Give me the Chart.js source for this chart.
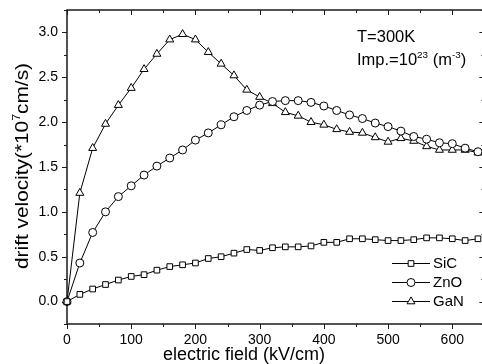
<!DOCTYPE html>
<html>
<head>
<meta charset="utf-8">
<title>drift velocity vs electric field</title>
<script src="https://cdn.jsdelivr.net/npm/chart.js@4.4.0/dist/chart.umd.min.js"></script>
<style>
  html, body { margin:0; padding:0; background:#fff; overflow:hidden; }
  #chart { display:block; }
</style>
</head>
<body>
<canvas id="chart" width="490" height="364"></canvas>
<script>
// electric field (kV/cm)
const fieldValues = [0,20,40,60,80,100,120,140,160,180,200,220,240,260,280,300,320,340,360,380,400,420,440,460,480,500,520,540,560,580,600,620,640];
// drift velocity (*10^7 cm/s)
const sicVelocity = [0,0.08,0.14,0.19,0.24,0.28,0.30,0.35,0.39,0.41,0.43,0.48,0.50,0.54,0.58,0.57,0.60,0.61,0.61,0.62,0.66,0.66,0.70,0.70,0.69,0.68,0.68,0.69,0.71,0.71,0.70,0.68,0.70];
const znoVelocity = [0,0.43,0.77,1.00,1.17,1.29,1.41,1.51,1.60,1.69,1.80,1.88,1.97,2.06,2.13,2.19,2.23,2.24,2.24,2.22,2.18,2.13,2.08,2.04,1.99,1.95,1.90,1.84,1.81,1.77,1.76,1.71,1.67];
const ganVelocity = [0,1.21,1.71,1.98,2.19,2.38,2.59,2.76,2.92,2.98,2.92,2.78,2.65,2.52,2.36,2.28,2.21,2.11,2.07,2.00,1.97,1.92,1.89,1.88,1.83,1.78,1.82,1.79,1.73,1.69,1.69,1.69,1.66];

const seriesNames = ['SiC','ZnO','GaN'];
const xTickValues = [0,100,200,300,400,500,600];
const yTickValues = [0.0,0.5,1.0,1.5,2.0,2.5,3.0];

const FONT = "'Liberation Sans', Arial, sans-serif";
const markers = { SiC: ['rect', 4], ZnO: ['circle', 4], GaN: ['triangle', 4.6] };

function makeDataset(name, values){
  const [style, radius] = markers[name];
  return {
    label: name,
    data: fieldValues.map((f, i) => ({ x: f, y: values[i] })),
    borderColor: '#000',
    borderWidth: 1,
    pointStyle: style,
    pointRadius: radius,
    pointBorderColor: '#000',
    pointBackgroundColor: '#fff',
    pointBorderWidth: 1,
    tension: 0,
    clip: false
  };
}

// superscript-aware text, parts = [[text, isSup], ...]
function richWidth(ctx, parts, size){
  let w = 0;
  for(const [t, sup] of parts){
    ctx.font = `${sup ? size*0.6 : size}px ${FONT}`;
    w += ctx.measureText(t).width;
  }
  return w;
}
function drawRich(ctx, parts, x, y, size){
  let cx = x;
  for(const [t, sup] of parts){
    ctx.font = `${sup ? size*0.6 : size}px ${FONT}`;
    ctx.fillText(t, cx, sup ? y - size*0.42 : y);
    cx += ctx.measureText(t).width;
  }
}

function drawMarker(ctx, style, r, x, y){
  ctx.beginPath();
  if(style === 'rect'){
    const s = r * Math.SQRT1_2;
    ctx.rect(x - s, y - s, 2*s, 2*s);
  } else if(style === 'circle'){
    ctx.arc(x, y, r, 0, Math.PI*2);
  } else {
    let a = 0;
    ctx.moveTo(x + Math.sin(a)*r, y - Math.cos(a)*r);
    a += Math.PI*2/3; ctx.lineTo(x + Math.sin(a)*r, y - Math.cos(a)*r);
    a += Math.PI*2/3; ctx.lineTo(x + Math.sin(a)*r, y - Math.cos(a)*r);
    ctx.closePath();
  }
  ctx.fillStyle = '#fff';
  ctx.fill();
  ctx.stroke();
}

const framePlugin = {
  id: 'frame',
  beforeDatasetsDraw(chart){
    const { ctx, chartArea: a, scales: { x, y } } = chart;
    ctx.save();
    ctx.strokeStyle = '#1a1a1a';
    ctx.lineWidth = 1.5;
    ctx.strokeRect(a.left, a.top, a.right - a.left, a.bottom - a.top);

    ctx.lineWidth = 1;
    ctx.beginPath();
    for(let v = 0; v <= x.max; v += 50){
      const px = Math.round(x.getPixelForValue(v)) + 0.5;
      const len = v % 100 === 0 ? 5 : 3;
      ctx.moveTo(px, a.bottom); ctx.lineTo(px, a.bottom + len);
      ctx.moveTo(px, a.top); ctx.lineTo(px, a.top + len);
    }
    for(let k = 0; k <= 14; k++){
      const v = y.min + k*0.25;
      const py = Math.round(y.getPixelForValue(v)) + 0.5;
      const len = k % 2 === 1 ? 5 : 3;
      ctx.moveTo(a.left, py); ctx.lineTo(a.left - len, py);
      ctx.moveTo(a.right, py); ctx.lineTo(a.right - len, py);
    }
    ctx.stroke();
    ctx.restore();
  },
  afterDraw(chart){
    const { ctx } = chart;
    ctx.save();
    ctx.fillStyle = '#000';
    ctx.textBaseline = 'alphabetic';

    // x axis title
    ctx.textAlign = 'center';
    ctx.font = `18px ${FONT}`;
    ctx.fillText('electric field (kV/cm)', 244, 360);

    // y axis title, rotated
    ctx.textAlign = 'left';
    const yTitle = [['drift velocity(*10', false], ['7', true], ['cm/s)', false]];
    const w = richWidth(ctx, yTitle, 18);
    ctx.save();
    ctx.translate(28, 166);
    ctx.rotate(-Math.PI/2);
    ctx.scale(206 / w, 1);
    drawRich(ctx, yTitle, -w/2, 0, 18);
    ctx.restore();

    // annotation
    ctx.font = `16.5px ${FONT}`;
    ctx.fillText('T=300K', 357, 42);
    drawRich(ctx, [['Imp.=10', false], ['23', true], [' (m', false], ['-3', true], [')', false]], 357, 65, 16.5);

    // legend
    const rowsY = [263, 282, 301];
    ctx.strokeStyle = '#000';
    ctx.lineWidth = 1;
    ctx.textBaseline = 'middle';
    ctx.font = `15px ${FONT}`;
    seriesNames.forEach((name, i) => {
      const ly = rowsY[i] + 0.5;
      ctx.beginPath();
      ctx.moveTo(392, ly); ctx.lineTo(430, ly);
      ctx.stroke();
      const [style, r] = markers[name];
      drawMarker(ctx, style, r, 411, ly);
      ctx.fillStyle = '#000';
      ctx.fillText(name, 433, rowsY[i] + 1);
    });
    ctx.restore();
  }
};

const tickFont = { family: FONT, size: 14 };

new Chart(document.getElementById('chart').getContext('2d'), {
  type: 'line',
  data: {
    datasets: [
      makeDataset('SiC', sicVelocity),
      makeDataset('ZnO', znoVelocity),
      makeDataset('GaN', ganVelocity)
    ]
  },
  options: {
    responsive: false,
    animation: false,
    layout: { padding: { top: 10, right: 5, left: 0, bottom: 0 } },
    plugins: { legend: { display: false }, tooltip: { enabled: false } },
    scales: {
      x: {
        type: 'linear', min: 0, max: 650,
        afterBuildTicks: s => { s.ticks = xTickValues.map(v => ({ value: v })); },
        afterFit: s => { s.height = 40; s.paddingLeft = 0; s.paddingRight = 0; },
        ticks: { font: tickFont, color: '#000', padding: 8, maxRotation: 0, autoSkip: false,
                 callback: v => String(v) },
        grid: { display: false, drawTicks: false },
        border: { display: false }
      },
      y: {
        type: 'linear', min: -0.25, max: 3.25,
        afterBuildTicks: s => { s.ticks = yTickValues.map(v => ({ value: v })); },
        afterFit: s => { s.width = 67; s.paddingTop = 0; s.paddingBottom = 0; },
        ticks: { font: tickFont, color: '#000', padding: 9,
                 callback: v => Number(v).toFixed(1) },
        grid: { display: false, drawTicks: false },
        border: { display: false }
      }
    }
  },
  plugins: [framePlugin]
});
</script>
</body>
</html>
